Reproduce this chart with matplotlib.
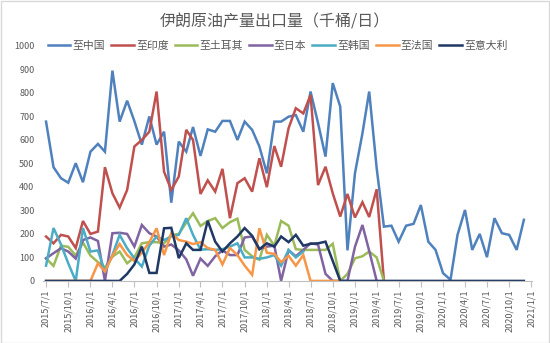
import numpy as np
import pandas as pd
import matplotlib
matplotlib.use("Agg")
import matplotlib.pyplot as plt
import matplotlib.patches as patches

plt.rcParams['font.family'] = ['Noto Sans CJK SC', 'DejaVu Sans']

# monthly data, 2015/7 .. 2020/12 (千桶/日)
dates = pd.date_range("2015-07-01", periods=66, freq="MS")

china = [678, 484, 437, 418, 501, 420, 550, 583, 550, 895, 678, 767, 680, 580, 700, 580,
         635, 333, 593, 550, 655, 532, 645, 635, 681, 681, 600, 678, 643, 572, 458, 678,
         678, 699, 706, 635, 806, 672, 529, 842, 742, 130, 458, 628, 806, 480, 231, 235,
         167, 235, 243, 323, 167, 132, 33, 5, 196, 302, 132, 200, 101, 267, 203, 196,
         132, 260]
india = [189, 160, 196, 189, 140, 255, 200, 210, 484, 373, 312, 387, 572, 600, 635, 806,
         465, 387, 444, 643, 600, 370, 428, 380, 477, 267, 416, 437, 380, 522, 399, 574,
         486, 650, 735, 713, 791, 408, 486, 373, 274, 370, 270, 335, 272, 390, 0]
turkey = [96, 64, 150, 145, 108, 163, 108, 80, 57, 103, 125, 75, 100, 160, 165, 165,
          160, 195, 200, 248, 288, 234, 255, 267, 225, 250, 265, 132, 105, 90, 196, 150,
          255, 235, 135, 132, 132, 132, 132, 158, 0, 30, 96, 105, 125, 100, 0]
japan = [96, 118, 139, 125, 95, 174, 185, 170, 0, 203, 205, 200, 146, 238, 203, 189,
         146, 155, 130, 92, 22, 95, 64, 105, 130, 110, 110, 185, 189, 135, 146, 150,
         0, 130, 105, 132, 160, 155, 30, 0, 0, 0, 145, 238, 128, 0]
korea = [65, 225, 155, 75, 0, 225, 125, 130, 40, 110, 196, 139, 96, 61, 150, 189,
         174, 189, 196, 267, 196, 133, 135, 132, 135, 146, 160, 100, 100, 94, 100, 110,
         65, 132, 100, 125]
france = [0, 0, 0, 0, 0, 0, 0, 75, 40, 107, 157, 110, 85, 120, 165, 224,
          110, 203, 174, 167, 157, 165, 140, 132, 70, 140, 110, 65, 26, 224, 120, 115,
          80, 107, 65, 110, 0, 0, 0, 0, 0]
italy = [0, 0, 0, 0, 0, 0, 0, 0, 0, 0, 0, 30, 70, 146, 34, 34,
         224, 226, 97, 160, 132, 132, 256, 167, 125, 160, 189, 225, 192, 135, 160, 146,
         189, 165, 196, 150, 158, 160, 167, 85, 0, 0, 0, 0, 0, 0, 0, 0,
         0, 0, 0, 0, 0, 0, 0, 0, 0, 0, 0, 0, 0, 0, 0, 0,
         0, 0]

names = ["至中国", "至印度", "至土耳其", "至日本", "至韩国", "至法国", "至意大利"]
series = [china, india, turkey, japan, korea, france, italy]
colors = ["#4F81BD", "#C0504D", "#9BBB59", "#8064A2", "#4BACC6", "#F79646", "#1F3864"]

tick_dates = pd.date_range("2015-07-01", "2021-01-01", freq="3MS")
tick_labels = [f"{d.year}/{d.month}/{d.day}" for d in tick_dates]

fig = plt.figure(figsize=(5.5, 3.43), dpi=100)
ax = fig.add_axes([0.078, 0.181, 0.889, 0.685])

for vals, name, c in zip(series, names, colors):
    ax.plot(dates[:len(vals)], vals, color=c, lw=1.8, label=name, solid_joinstyle="miter")

ax.set_ylim(0, 1000)
ax.set_yticks(np.arange(0, 1001, 100))
ax.set_xlim(pd.Timestamp("2015-06-18"), pd.Timestamp("2021-01-03"))
ax.set_xticks(tick_dates)
ax.set_xticklabels(tick_labels, rotation=90)

for s in ["top", "right", "left"]:
    ax.spines[s].set_visible(False)
ax.spines["bottom"].set_color("#bfbfbf")
ax.tick_params(axis="y", length=0, labelsize=6.5, labelcolor="#595959", pad=6)
ax.tick_params(axis="x", length=4, color="#bfbfbf", labelsize=6.5, labelcolor="#595959", pad=2)

fig.text(0.5, 0.935, "伊朗原油产量出口量（千桶/日）", ha="center", va="center",
         fontsize=11.5, color="#595959")

fig.legend(loc="center", bbox_to_anchor=(0.505, 0.866), ncol=7, frameon=False,
           fontsize=7.8, handlelength=2.1, handletextpad=0.2, columnspacing=0.55,
           labelcolor="#595959")

fig.add_artist(patches.Rectangle((0.001, 0.001), 0.997, 0.997, transform=fig.transFigure,
                                 fill=False, edgecolor="#d9d9d9", lw=1))

fig.savefig("out.png", dpi=100)
